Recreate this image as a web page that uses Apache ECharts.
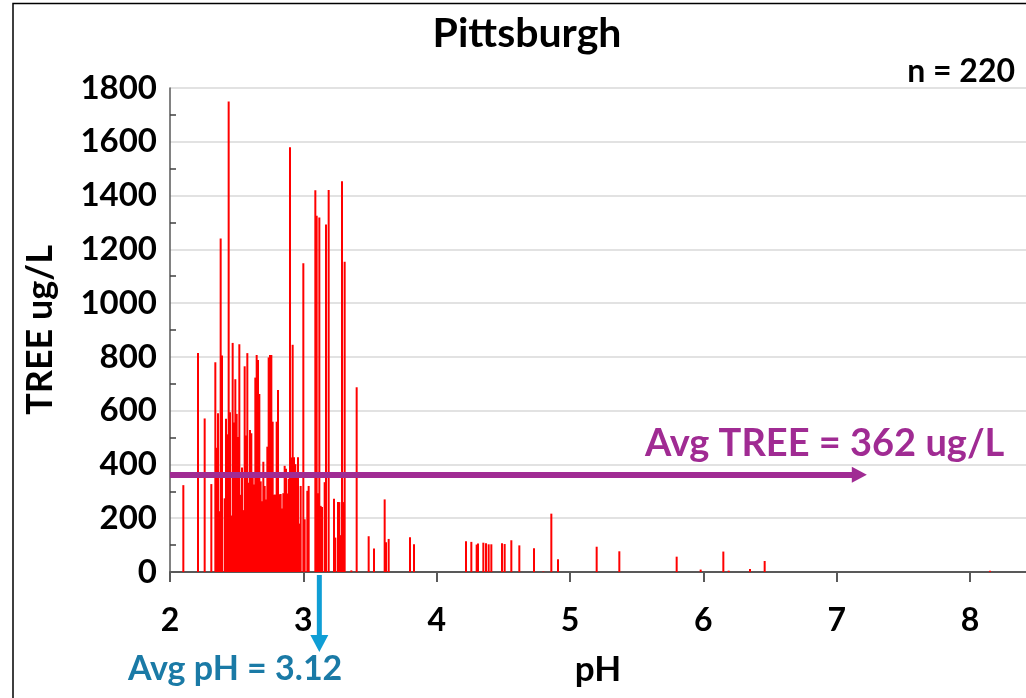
<!DOCTYPE html>
<html>
<head>
<meta charset="utf-8">
<script src="https://cdn.jsdelivr.net/npm/echarts@6/dist/echarts.min.js"></script>
<style>
  html, body { margin: 0; padding: 0; background: #ffffff; }
  #chart { width: 1026px; height: 698px; }
</style>
</head>
<body>
<div id="chart"></div>
<script>
// Sample pH readings and the matching TREE concentrations (ug/L)
const phValues = [
  2.10, 2.21, 2.26, 2.31, 2.34, 2.35, 2.36, 2.37, 2.38, 2.39,
  2.41, 2.42, 2.43, 2.44, 2.45, 2.46, 2.47, 2.48, 2.49, 2.50,
  2.51, 2.52, 2.53, 2.54, 2.55, 2.56, 2.57, 2.58, 2.59, 2.60,
  2.61, 2.62, 2.63, 2.64, 2.65, 2.66, 2.67, 2.68, 2.69, 2.70,
  2.71, 2.72, 2.73, 2.74, 2.75, 2.76, 2.77, 2.78, 2.79, 2.80,
  2.81, 2.82, 2.83, 2.84, 2.85, 2.86, 2.87, 2.88, 2.89, 2.90,
  2.91, 2.92, 2.93, 2.94, 2.95, 2.96, 2.97, 2.98, 3.00, 3.01,
  3.03, 3.04, 3.09, 3.10, 3.11, 3.12, 3.13, 3.14, 3.16, 3.17,
  3.19, 3.23, 3.24, 3.26, 3.27, 3.28, 3.29, 3.30, 3.31, 3.36,
  3.40, 3.49, 3.53, 3.61, 3.62, 3.64, 3.80, 3.83, 4.22, 4.26,
  4.30, 4.31, 4.35, 4.37, 4.39, 4.41, 4.49, 4.51, 4.56, 4.62,
  4.73, 4.80, 4.86, 4.91, 5.20, 5.37, 5.80, 5.98, 6.15, 6.19,
  6.35, 6.46, 8.15
];
const treeValues = [
  323, 814, 571, 327, 780, 462, 590, 226, 1240, 805,
  274, 570, 512, 1750, 594, 210, 852, 556, 717, 588,
  502, 847, 287, 389, 230, 765, 508, 814, 332, 528,
  516, 355, 325, 723, 807, 788, 662, 337, 263, 410,
  320, 270, 466, 798, 807, 807, 559, 287, 288, 559,
  677, 289, 290, 236, 293, 395, 384, 292, 347, 1580,
  426, 845, 427, 401, 357, 427, 180, 320, 1148, 196,
  302, 320, 1420, 1325, 293, 1318, 246, 242, 334, 1292,
  1421, 272, 128, 260, 260, 137, 1453, 260, 1154, 6,
  687, 133, 87, 270, 111, 123, 129, 103, 114, 112,
  102, 106, 109, 107, 103, 103, 107, 104, 118, 99,
  88, 2, 217, 47, 94, 77, 57, 9, 76, 5,
  11, 41, 5
];

const chartTitle = 'Pittsburgh';
const sampleCount = 220;
const avgTree = 362;      // ug/L
const avgPH = 3.12;
const avgTreeArrowEnd = 7.17; // pH where the average arrow stops

const FONT = 'Lato, "Open Sans", "Liberation Sans", sans-serif';
const PURPLE = '#A02B93';
const BLUE_ARROW = '#0F9ED5';
const BLUE_TEXT = '#1A7AA6';

const points = phValues.map((p, i) => [p, treeValues[i]]);

const chart = echarts.init(document.getElementById('chart'), null, { renderer: 'canvas' });

const option = {
  animation: false,
  backgroundColor: '#ffffff',
  title: {
    text: chartTitle,
    left: 522,
    top: 8,
    textAlign: 'center',
    textStyle: { fontFamily: FONT, fontWeight: 'bold', fontSize: 41, color: '#000000' }
  },
  grid: { left: 170, right: 0, top: 88, bottom: 126, containLabel: false },
  xAxis: {
    type: 'value',
    min: 2,
    max: 8.42,
    interval: 1,
    name: 'pH',
    nameLocation: 'middle',
    nameGap: 80,
    nameTextStyle: { fontFamily: FONT, fontWeight: 'bold', fontSize: 35, color: '#000000' },
    axisLine: { show: true, onZero: true, lineStyle: { color: '#595959', width: 2 } },
    axisTick: { show: true, inside: false, length: 10, lineStyle: { color: '#595959', width: 2 } },
    axisLabel: {
      margin: 33,
      fontFamily: FONT, fontWeight: 'bold', fontSize: 32, color: '#000000',
      showMaxLabel: false,
      formatter: v => (Number.isInteger(v) ? String(v) : '')
    },
    splitLine: { show: false }
  },
  yAxis: {
    type: 'value',
    min: 0,
    max: 1800,
    interval: 200,
    name: 'TREE ug/L',
    nameLocation: 'middle',
    nameGap: 112,
    nameRotate: 90,
    nameTextStyle: { fontFamily: FONT, fontWeight: 'bold', fontSize: 36, color: '#000000' },
    axisLine: { show: true, lineStyle: { color: '#595959', width: 1.5 } },
    axisTick: { show: false, inside: true },
    minorTick: { show: true, splitNumber: 2, length: 6, lineStyle: { color: '#404040', width: 1.5 } },
    axisLabel: {
      margin: 13,
      fontFamily: FONT, fontWeight: 'bold', fontSize: 33, color: '#000000',
      formatter: v => String(v)
    },
    splitLine: { show: true, lineStyle: { color: '#D9D9D9', width: 1.5 } }
  },
  series: [{
    type: 'bar',
    data: points,
    barWidth: 2,
    itemStyle: { color: '#FF0000' },
    z: 2,
    markLine: {
      silent: true,
      symbol: ['none', 'triangle'],
      symbolSize: [16, 15],
      label: { show: false },
      lineStyle: { color: PURPLE, width: 6, type: 'solid' },
      z: 5,
      data: [[{ coord: [2, avgTree] }, { coord: [avgTreeArrowEnd, avgTree] }]]
    }
  }]
};

chart.setOption(option);

// Annotations placed from the axis scales: average pH arrow and labels
const axisPt = chart.convertToPixel({ gridIndex: 0 }, [avgPH, 0]);
const treePt = chart.convertToPixel({ gridIndex: 0 }, [avgTreeArrowEnd, avgTree]);
const ax = axisPt[0];
const ay = axisPt[1];

chart.setOption({
  graphic: [
    {
      type: 'rect',
      silent: true,
      shape: { x: 13, y: 3.5, width: 1200, height: 900 },
      style: { fill: 'none', stroke: '#000000', lineWidth: 1.5 },
      z: 10
    },
    {
      type: 'text',
      silent: true,
      x: 1015,
      y: 72,
      style: {
        text: 'n = ' + sampleCount,
        fontFamily: FONT, fontWeight: 'bold', fontSize: 32, fill: '#000000',
        align: 'right', verticalAlign: 'middle'
      }
    },
    {
      type: 'text',
      silent: true,
      x: treePt[0] + 145,
      y: treePt[1] - 31,
      style: {
        text: 'Avg TREE = ' + avgTree + ' ug/L',
        fontFamily: FONT, fontWeight: 'bold', fontSize: 38, fill: PURPLE,
        align: 'right', verticalAlign: 'middle'
      }
    },
    {
      type: 'line',
      silent: true,
      shape: { x1: ax, y1: ay + 3, x2: ax, y2: ay + 65 },
      style: { stroke: BLUE_ARROW, lineWidth: 5 },
      z: 10
    },
    {
      type: 'polygon',
      silent: true,
      shape: { points: [[ax - 9, ay + 63], [ax + 9, ay + 63], [ax, ay + 80]] },
      style: { fill: BLUE_ARROW },
      z: 10
    },
    {
      type: 'text',
      silent: true,
      x: ax + 23,
      y: ay + 97,
      style: {
        text: 'Avg pH = ' + avgPH.toFixed(2),
        fontFamily: FONT, fontWeight: 'bold', fontSize: 34, fill: BLUE_TEXT,
        align: 'right', verticalAlign: 'middle'
      }
    }
  ]
});
</script>
</body>
</html>
